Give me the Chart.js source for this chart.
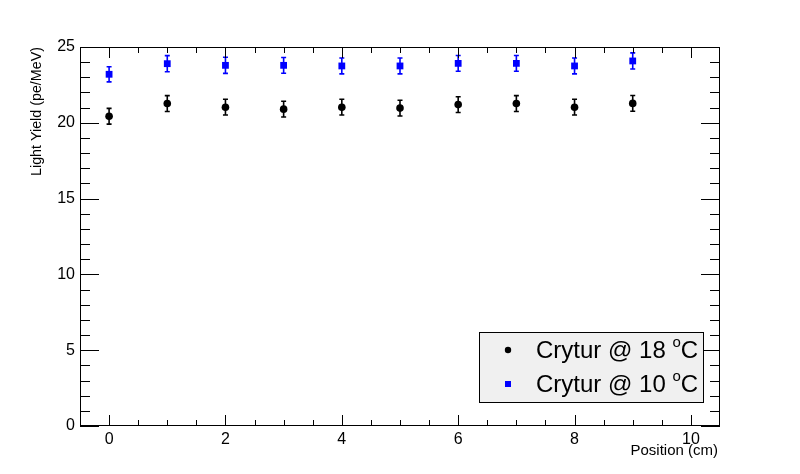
<!DOCTYPE html>
<html>
<head>
<meta charset="utf-8">
<script src="https://cdn.jsdelivr.net/npm/chart.js@4"></script>
<style>
  html, body { margin: 0; padding: 0; background: #fff; }
  #wrap { width: 800px; height: 474px; }
</style>
</head>
<body>
<div id="wrap"><canvas id="lyChart" width="800" height="474"></canvas></div>
<script>
// data
const positions = [0, 1, 2, 3, 4, 5, 6, 7, 8, 9];
const yield18 = [20.43, 21.27, 21.03, 20.90, 21.03, 20.97, 21.20, 21.27, 21.03, 21.28];
const err18 = [0.52, 0.52, 0.52, 0.52, 0.52, 0.52, 0.52, 0.52, 0.52, 0.52];
const yield10 = [23.20, 23.90, 23.79, 23.79, 23.75, 23.75, 23.92, 23.92, 23.75, 24.08];
const err10 = [0.50, 0.53, 0.53, 0.52, 0.52, 0.52, 0.52, 0.52, 0.52, 0.53];
const seriesLabels = ['Crytur @ 18 ', 'Crytur @ 10 '];
const xTitle = 'Position (cm)';
const yTitle = 'Light Yield (pe/MeV)';

const FONT = "'Liberation Sans', Arial, sans-serif";
const BLUE = '#0000ff';

function toPoints(xs, ys, es) {
    return xs.map((x, i) => ({ x: x, y: ys[i], e: es[i] }));
}

// vertical error bars with small caps, drawn under the markers
const errorBars = {
    id: 'errorBars',
    beforeDatasetsDraw(chart) {
        const ctx = chart.ctx;
        const xs = chart.scales.x, ys = chart.scales.y;
        chart.data.datasets.forEach(ds => {
            ctx.save();
            ctx.strokeStyle = ds.borderColor;
            ctx.lineWidth = 1.6;
            ds.data.forEach(p => {
                const px = xs.getPixelForValue(p.x);
                const top = ys.getPixelForValue(p.y + p.e);
                const bot = ys.getPixelForValue(p.y - p.e);
                ctx.beginPath();
                ctx.moveTo(px, top); ctx.lineTo(px, bot);
                ctx.moveTo(px - 2.5, top); ctx.lineTo(px + 2.5, top);
                ctx.moveTo(px - 2.5, bot); ctx.lineTo(px + 2.5, bot);
                ctx.stroke();
            });
            ctx.restore();
        });
    }
};

// ROOT style frame, inward ticks, titles and legend box
const rootFrame = {
    id: 'rootFrame',
    afterDraw(chart) {
        const ctx = chart.ctx;
        const a = chart.chartArea;
        const xs = chart.scales.x, ys = chart.scales.y;
        ctx.save();
        ctx.strokeStyle = '#000';
        ctx.lineWidth = 1;
        ctx.strokeRect(a.left + 0.5, a.top + 0.5, a.right - a.left - 1, a.bottom - a.top - 1);

        ctx.beginPath();
        // x ticks every 0.5, major every 2
        for (let v = 0; v <= 10.0001; v += 0.5) {
            const px = Math.round(xs.getPixelForValue(v)) + 0.5;
            const len = (Math.abs(v % 2) < 1e-6) ? 11 : 6;
            ctx.moveTo(px, a.bottom); ctx.lineTo(px, a.bottom - len);
            ctx.moveTo(px, a.top); ctx.lineTo(px, a.top + len);
        }
        // y ticks every 1, major every 5
        for (let v = 0; v <= 25.0001; v += 1) {
            const py = Math.round(ys.getPixelForValue(v)) + 0.5;
            const len = (v % 5 === 0) ? 19 : 10;
            ctx.moveTo(a.left, py); ctx.lineTo(a.left + len, py);
            ctx.moveTo(a.right, py); ctx.lineTo(a.right - len, py);
        }
        ctx.stroke();

        // axis titles
        ctx.fillStyle = '#000';
        ctx.font = '15px ' + FONT;
        ctx.textAlign = 'right';
        ctx.textBaseline = 'middle';
        ctx.fillText(xTitle, a.right - 2, 451);
        ctx.save();
        ctx.translate(37, a.top);
        ctx.rotate(-Math.PI / 2);
        ctx.font = '14.3px ' + FONT;
        ctx.fillText(yTitle, 0, 0);
        ctx.restore();

        // legend
        const lx = 479, ly = 332, lw = 225, lh = 71;
        ctx.fillStyle = '#f0f0f0';
        ctx.fillRect(lx, ly, lw, lh);
        ctx.strokeRect(lx + 0.5, ly + 0.5, lw - 1, lh - 1);
        const rows = [350, 384];
        chart.data.datasets.forEach((ds, i) => {
            const cy = rows[i];
            ctx.fillStyle = ds.backgroundColor;
            if (ds.pointStyle === 'rect') {
                ctx.fillRect(505, cy - 3, 6, 6);
            } else {
                ctx.beginPath();
                ctx.arc(508, cy, 3.2, 0, Math.PI * 2);
                ctx.fill();
            }
            ctx.fillStyle = '#000';
            ctx.textAlign = 'left';
            ctx.textBaseline = 'middle';
            ctx.font = '24px ' + FONT;
            ctx.fillText(ds.label, 536, cy + 1);
            const w = ctx.measureText(ds.label).width;
            ctx.font = '15px ' + FONT;
            ctx.fillText('o', 536 + w, cy - 7);
            const ow = ctx.measureText('o').width;
            ctx.font = '24px ' + FONT;
            ctx.fillText('C', 536 + w + ow, cy + 1);
        });
        ctx.restore();
    }
};

new Chart(document.getElementById('lyChart'), {
    type: 'scatter',
    data: {
        datasets: [
            {
                label: seriesLabels[0],
                data: toPoints(positions, yield18, err18),
                backgroundColor: '#000',
                borderColor: '#000',
                pointStyle: 'circle',
                pointRadius: 3.8,
                pointBorderWidth: 0
            },
            {
                label: seriesLabels[1],
                data: toPoints(positions, yield10, err10),
                backgroundColor: BLUE,
                borderColor: BLUE,
                pointStyle: 'rect',
                pointRadius: 4.8,
                pointBorderWidth: 0
            }
        ]
    },
    options: {
        responsive: false,
        animation: false,
        layout: { padding: { left: 0, right: 80, top: 47, bottom: 0 } },
        plugins: {
            legend: { display: false },
            tooltip: { enabled: false }
        },
        scales: {
            x: {
                type: 'linear',
                min: -0.5,
                max: 10.5,
                grid: { display: false, drawTicks: false, tickLength: 0 },
                border: { display: false },
                afterFit(scale) { scale.height = 48; },
                ticks: {
                    stepSize: 2,
                    includeBounds: false,
                    padding: 4,
                    color: '#000',
                    font: { family: FONT, size: 16 },
                    maxRotation: 0
                }
            },
            y: {
                min: 0,
                max: 25,
                grid: { display: false, drawTicks: false, tickLength: 0 },
                border: { display: false },
                afterFit(scale) { scale.width = 80; },
                ticks: {
                    stepSize: 5,
                    padding: 5,
                    color: '#000',
                    font: { family: FONT, size: 16 }
                }
            }
        }
    },
    plugins: [errorBars, rootFrame]
});
</script>
</body>
</html>
